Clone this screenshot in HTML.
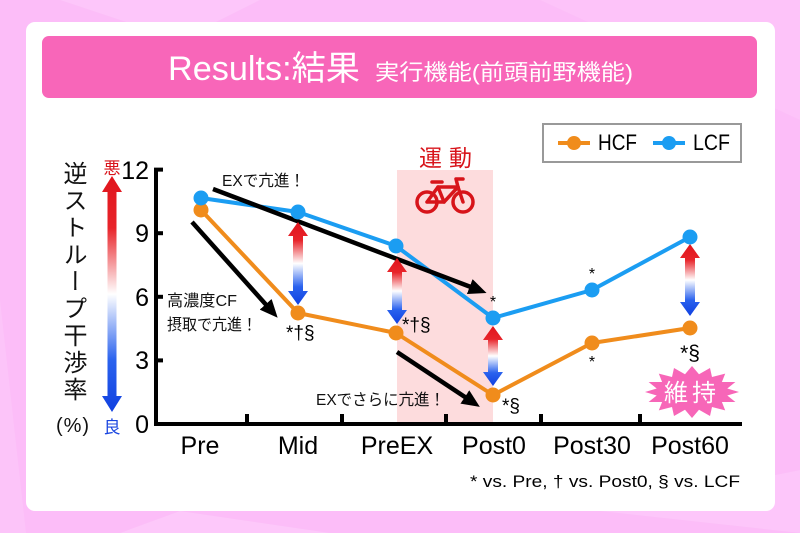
<!DOCTYPE html>
<html><head><meta charset="utf-8">
<style>
html,body{margin:0;padding:0;width:800px;height:533px;overflow:hidden;background:#fcbdf8;}
#wrap{position:relative;width:800px;height:533px;}
svg{position:absolute;left:0;top:0;}
#ylab{position:absolute;left:60px;top:161px;width:24px;writing-mode:vertical-rl;font-family:"Liberation Sans","Noto Sans CJK JP",sans-serif;font-size:24px;line-height:24px;letter-spacing:3px;color:#111;}
</style></head><body><div id="wrap">
<svg width="800" height="533" viewBox="0 0 800 533" xmlns="http://www.w3.org/2000/svg" font-family="'Liberation Sans','Noto Sans CJK JP',sans-serif">
<defs>
<linearGradient id="dg" x1="0" y1="0" x2="0" y2="1">
<stop offset="0" stop-color="#e0141c"/>
<stop offset="0.22" stop-color="#e8242a"/>
<stop offset="0.5" stop-color="#ffffff"/>
<stop offset="0.78" stop-color="#2a62ee"/>
<stop offset="1" stop-color="#1040e0"/>
</linearGradient>
<marker id="ah" markerUnits="userSpaceOnUse" markerWidth="18" markerHeight="16" refX="11" refY="8" orient="auto">
<path d="M0,0 L18,8 L0,16 Z" fill="#000"/>
</marker>
</defs>
<!-- background -->
<rect width="800" height="533" fill="#fcbdf8"/>
<polygon points="60,0 260,0 180,40" fill="#fdd0fb" opacity="0.5"/>
<polygon points="540,0 800,0 800,120" fill="#fdcafa" opacity="0.5"/>
<polygon points="0,300 26,533 0,533" fill="#fdd0fb" opacity="0.4"/>
<polygon points="180,511 330,533 120,533" fill="#fdd3fb" opacity="0.5"/>
<polygon points="600,511 800,470 800,533" fill="#fdd0fb" opacity="0.5"/>
<!-- card -->
<rect x="26" y="22" width="749" height="489" rx="9" fill="#ffffff"/>
<!-- banner -->
<rect x="42" y="36" width="715" height="62" rx="7" fill="#f866b9"/>
<text x="168" y="80" font-size="34" fill="#fff" textLength="192" lengthAdjust="spacingAndGlyphs">Results:結果</text>
<text x="375" y="80" font-size="22" fill="#fff" textLength="258" lengthAdjust="spacingAndGlyphs">実行機能(前頭前野機能)</text>
<!-- exercise region -->
<rect x="397" y="170" width="96" height="254" fill="#fddcdd"/>
<text x="419" y="166" font-size="23" fill="#d8141b" textLength="53" lengthAdjust="spacing">運動</text>
<!-- bicycle -->
<g fill="none" stroke="#d7141a" stroke-width="3.5" stroke-linecap="round" stroke-linejoin="round">
<circle cx="427" cy="202" r="10"/>
<circle cx="463" cy="202" r="10"/>
<polyline points="427,202 444,202 438,187 427,202"/>
<polyline points="444,202 458,187 438,187"/>
<polyline points="458,187 463,202"/>
<line x1="432" y1="182" x2="442" y2="182"/>
<polyline points="458,187 456,179 463,179"/>
</g>
<!-- axes -->
<g stroke="#000" stroke-width="4" fill="none">
<polyline points="163,169.6 156,169.6 156,424 742,424"/>
<line x1="156" y1="233.2" x2="163" y2="233.2"/>
<line x1="156" y1="296.8" x2="163" y2="296.8"/>
<line x1="156" y1="360.4" x2="163" y2="360.4"/>
<line x1="247" y1="424" x2="247" y2="414"/>
<line x1="342" y1="424" x2="342" y2="414"/>
<line x1="446" y1="424" x2="446" y2="414"/>
<line x1="541" y1="424" x2="541" y2="414"/>
<line x1="640" y1="424" x2="640" y2="414"/>
</g>
<g font-size="25" fill="#000" text-anchor="end">
<text x="149" y="179">12</text>
<text x="149" y="242">9</text>
<text x="149" y="306">6</text>
<text x="149" y="369">3</text>
<text x="149" y="433">0</text>
</g>
<g font-size="25" fill="#000" text-anchor="middle">
<text x="200" y="454">Pre</text>
<text x="298" y="454">Mid</text>
<text x="397" y="454">PreEX</text>
<text x="494" y="454">Post0</text>
<text x="592" y="454">Post30</text>
<text x="690" y="454">Post60</text>
</g>
<text x="740" y="487" font-size="17" fill="#000" text-anchor="end" textLength="270" lengthAdjust="spacingAndGlyphs">* vs. Pre, † vs. Post0, § vs. LCF</text>
<!-- left gradient arrow -->
<path d="M112,176 L122,192 L116.5,192 L116.5,396 L122,396 L112,412 L102,396 L107.5,396 L107.5,192 L102,192 Z" fill="url(#dg)"/>
<text x="112" y="174" font-size="17" fill="#d8141b" text-anchor="middle">悪</text>
<text x="112" y="433" font-size="17" fill="#1a46e0" text-anchor="middle">良</text>
<text x="73" y="432" font-size="20" fill="#111" text-anchor="middle" letter-spacing="1">(%)</text>
<!-- series lines -->
<polyline points="201,210 298,313 396,333 493,395 592,343 690,328" fill="none" stroke="#f08c1c" stroke-width="4" stroke-linejoin="round"/>
<polyline points="201,198 298,212 396,246 493,318 592,290 690,237" fill="none" stroke="#1b9df2" stroke-width="4" stroke-linejoin="round"/>
<!-- black arrows -->
<g stroke="#000" stroke-width="4.5" marker-end="url(#ah)">
<line x1="213" y1="189" x2="480" y2="290.5"/>
<line x1="192" y1="222" x2="273" y2="312.5"/>
<line x1="397" y1="352" x2="474" y2="403"/>
</g>
<!-- double arrows -->
<path d="M298,222 L308,236 L303,236 L303,291 L308,291 L298,305 L288,291 L293,291 L293,236 L288,236 Z" fill="url(#dg)"/>
<path d="M397,258 L407,272 L402,272 L402,310 L407,310 L397,324 L387,310 L392,310 L392,272 L387,272 Z" fill="url(#dg)"/>
<path d="M493,326 L503,340 L498,340 L498,372 L503,372 L493,386 L483,372 L488,372 L488,340 L483,340 Z" fill="url(#dg)"/>
<path d="M690,244 L700,258 L695,258 L695,302 L700,302 L690,316 L680,302 L685,302 L685,258 L680,258 Z" fill="url(#dg)"/>
<!-- dots -->
<g fill="#f08c1c">
<circle cx="201" cy="210" r="7.5"/><circle cx="298" cy="313" r="7.5"/><circle cx="396" cy="333" r="7.5"/>
<circle cx="493" cy="395" r="7.5"/><circle cx="592" cy="343" r="7.5"/><circle cx="690" cy="328" r="7.5"/>
</g>
<g fill="#1b9df2">
<circle cx="201" cy="198" r="7.5"/><circle cx="298" cy="212" r="7.5"/><circle cx="396" cy="246" r="7.5"/>
<circle cx="493" cy="318" r="7.5"/><circle cx="592" cy="290" r="7.5"/><circle cx="690" cy="237" r="7.5"/>
</g>
<!-- annotations -->
<g fill="#111" font-size="16">
<text x="222" y="186" textLength="83" lengthAdjust="spacingAndGlyphs">EXで亢進！</text>
<text x="167" y="306" textLength="70" lengthAdjust="spacingAndGlyphs">高濃度CF</text>
<text x="167" y="330" textLength="90" lengthAdjust="spacingAndGlyphs">摂取で亢進！</text>
<text x="316" y="405" textLength="129" lengthAdjust="spacingAndGlyphs">EXでさらに亢進！</text>
</g>
<g fill="#000" font-size="19">
<text x="286" y="339">*†§</text>
<text x="402" y="331">*†§</text>
<text x="502" y="412">*§</text>
<text x="690" y="360" text-anchor="middle" font-size="21">*§</text>
<text x="493" y="307" text-anchor="middle" font-size="16">*</text>
<text x="592" y="279" text-anchor="middle" font-size="16">*</text>
<text x="592" y="367" text-anchor="middle" font-size="16">*</text>
</g>
<!-- starburst -->
<polygon fill="#f766b8" points="739,392 727.3,395.5 735.4,402 721.9,402 725.2,410.4 712,407 710,416 699,409.7 692,418 685,409.7 674,416 672,407 658.8,410.4 662.1,402 648.6,402 656.7,395.5 645,392 656.7,388.5 648.6,382 662.1,382 658.8,373.6 672,377 674,368 685,374.3 692,366 699,374.3 710,368 712,377 725.2,373.6 721.9,382 735.4,382 727.3,388.5"/>
<text x="692" y="401" font-size="24" fill="#fff" text-anchor="middle" letter-spacing="4">維持</text>
<!-- legend -->
<rect x="543" y="124" width="198" height="38" fill="#fff" stroke="#999" stroke-width="2"/>
<line x1="558" y1="143" x2="590" y2="143" stroke="#f08c1c" stroke-width="4"/>
<circle cx="574" cy="143" r="7" fill="#f08c1c"/>
<text x="598" y="150" font-size="22" fill="#000" textLength="39" lengthAdjust="spacingAndGlyphs">HCF</text>
<line x1="653" y1="143" x2="685" y2="143" stroke="#1b9df2" stroke-width="4"/>
<circle cx="669" cy="143" r="7" fill="#1b9df2"/>
<text x="693" y="150" font-size="22" fill="#000" textLength="37" lengthAdjust="spacingAndGlyphs">LCF</text>
</svg>
<div id="ylab">逆ストループ干渉率</div>
</div></body></html>
